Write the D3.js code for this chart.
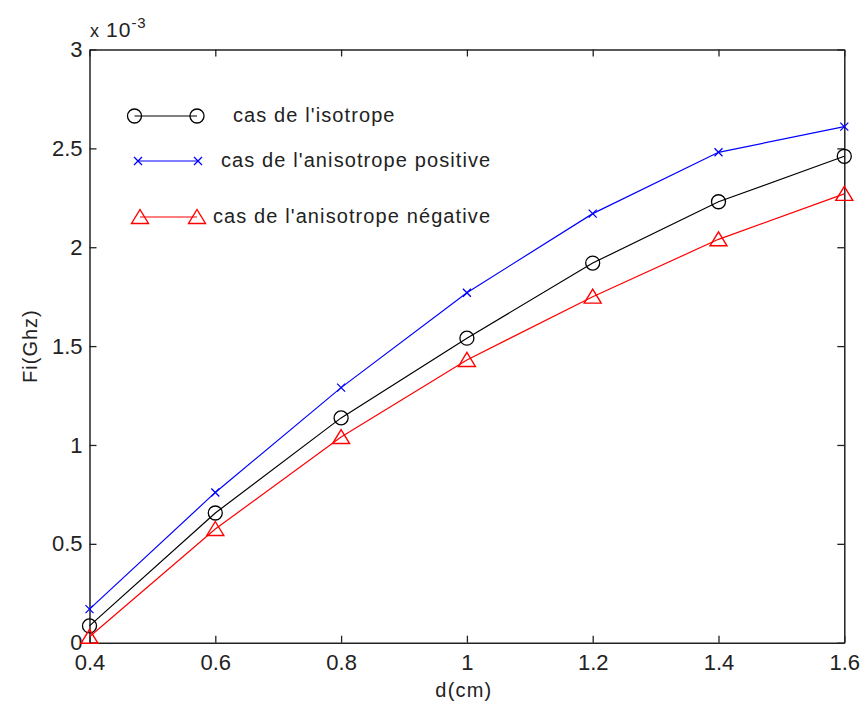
<!DOCTYPE html>
<html>
<head>
<meta charset="utf-8">
<script src="https://cdn.jsdelivr.net/npm/d3@7"></script>
<style>
  body { margin: 0; background: #fff; }
  text { font-family: "Liberation Sans", Arial, sans-serif; fill: #222; }
</style>
</head>
<body>
<div id="chart"></div>
<script>
var dValues = [0.4, 0.6, 0.8, 1.0, 1.2, 1.4, 1.6];
var isotrope = [0.085, 0.656, 1.137, 1.54, 1.92, 2.23, 2.46];
var anisoPositive = [0.17, 0.76, 1.29, 1.77, 2.17, 2.48, 2.61];
var anisoNegative = [0.03, 0.575, 1.04, 1.43, 1.75, 2.04, 2.27];
var xTicks = [0.4, 0.6, 0.8, 1, 1.2, 1.4, 1.6];
var yTicks = [0, 0.5, 1, 1.5, 2, 2.5, 3];
var legendLabels = ["cas de l'isotrope", "cas de l'anisotrope positive", "cas de l'anisotrope négative"];

var W = 861, H = 707;
var margin = {top: 49.5, right: 16.7, bottom: 64.3, left: 89.5};
var width = W - margin.left - margin.right,
    height = H - margin.top - margin.bottom;

var svg = d3.select("#chart").append("svg")
  .attr("width", W).attr("height", H);

var g = svg.append("g")
  .attr("transform", "translate(" + margin.left + "," + margin.top + ")");

var x = d3.scaleLinear().domain([0.4, 1.6]).range([0, width]);
var y = d3.scaleLinear().domain([0, 3]).range([height, 0]);

// axes with inward ticks, MATLAB style
var fmt = d => String(+d.toFixed(1));
g.append("g").attr("transform", "translate(0," + height + ")")
  .call(d3.axisBottom(x).tickValues(xTicks).tickSizeInner(-7).tickSizeOuter(0).tickPadding(12).tickFormat(fmt));
g.append("g")
  .call(d3.axisTop(x).tickValues(xTicks).tickSizeInner(-7).tickSizeOuter(0).tickFormat(""));
g.append("g")
  .call(d3.axisLeft(y).tickValues(yTicks).tickSizeInner(-7).tickSizeOuter(0).tickPadding(7).tickFormat(fmt));
g.append("g").attr("transform", "translate(" + width + ",0)")
  .call(d3.axisRight(y).tickValues(yTicks).tickSizeInner(-7).tickSizeOuter(0).tickFormat(""));

g.selectAll(".domain").attr("stroke", "#222").attr("stroke-width", 1.5);
g.selectAll(".tick line").attr("stroke", "#222").attr("stroke-width", 1.3);
g.selectAll(".tick text").attr("font-size", 22).attr("fill", "#222")
  .attr("font-family", "Liberation Sans, Arial, sans-serif");

// exponent label
var expo = svg.append("text").attr("x", 90).attr("y", 37).attr("font-size", 21)
  .attr("letter-spacing", 1);
expo.append("tspan").attr("font-size", 18).text("x ");
expo.append("tspan").text("10");
expo.append("tspan").attr("dy", -9).attr("font-size", 15).text("-3");

svg.append("text").attr("x", margin.left + width / 2 - 3).attr("y", 697)
  .attr("text-anchor", "middle").attr("font-size", 20).attr("letter-spacing", 1.2).text("d(cm)");
svg.append("text").attr("transform", "translate(37," + (margin.top + height / 2) + ") rotate(-90)")
  .attr("text-anchor", "middle").attr("font-size", 20).attr("letter-spacing", 1).text("Fi(Ghz)");

var line = d3.line().x(d => x(d[0])).y(d => y(d[1]));

function drawMarker(sel, type, color) {
  if (type === "circle") {
    sel.append("circle").attr("r", 7).attr("fill", "none")
      .attr("stroke", color).attr("stroke-width", 1.3);
  } else if (type === "x") {
    sel.append("path").attr("d", "M-4,-4L4,4M-4,4L4,-4")
      .attr("stroke", color).attr("stroke-width", 1.3);
  } else {
    sel.append("path").attr("d", "M0,-7.5L8.5,6.5L-8.5,6.5Z").attr("fill", "none")
      .attr("stroke", color).attr("stroke-width", 1.4);
  }
}

var series = [
  {values: isotrope, color: "#000", marker: "circle"},
  {values: anisoPositive, color: "#0000ff", marker: "x"},
  {values: anisoNegative, color: "#ff0000", marker: "triangle"}
];

series.forEach(function(s) {
  var pts = dValues.map((d, i) => [d, s.values[i]]);
  g.append("path").datum(pts).attr("d", line)
    .attr("fill", "none").attr("stroke", s.color).attr("stroke-width", 1.2);
  g.selectAll(null).data(pts).join("g")
    .attr("transform", d => "translate(" + x(d[0]) + "," + y(d[1]) + ")")
    .each(function() { drawMarker(d3.select(this), s.marker, s.color); });
});

// legend (no box)
var legendRows = [
  {x1: 134.5, x2: 197, y: 116, tx: 233},
  {x1: 138, x2: 198, y: 161, tx: 221},
  {x1: 140, x2: 197, y: 217, tx: 213}
];
series.forEach(function(s, i) {
  var r = legendRows[i];
  svg.append("line").attr("x1", r.x1).attr("x2", r.x2).attr("y1", r.y).attr("y2", r.y)
    .attr("stroke", s.color).attr("stroke-width", 1.2);
  [r.x1, r.x2].forEach(function(px) {
    var m = svg.append("g").attr("transform", "translate(" + px + "," + r.y + ")");
    drawMarker(m, s.marker, s.color);
  });
  svg.append("text").attr("x", r.tx).attr("y", r.y + 6).attr("font-size", 20)
    .attr("letter-spacing", 1.1).text(legendLabels[i]);
});
</script>
</body>
</html>
